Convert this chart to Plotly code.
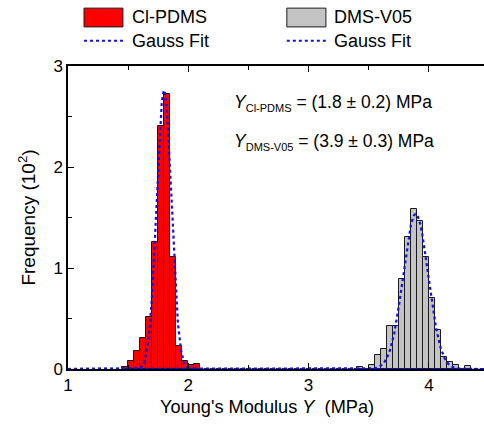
import numpy as np
import plotly.graph_objects as go

# Histogram bins (bin centres in MPa, width 0.05) and counts (in units of 10^2)
bin_width = 0.05
cl_pdms_centers = [1.475, 1.525, 1.575, 1.625, 1.675, 1.725, 1.775, 1.825,
                   1.875, 1.925, 1.975, 2.025, 2.075]
cl_pdms_counts = [0.02, 0.08, 0.18, 0.31, 0.51, 1.26, 2.41, 2.72,
                  1.11, 0.23, 0.08, 0.04, 0.045]

dms_v05_centers = [3.425, 3.475, 3.525, 3.575, 3.625, 3.675, 3.725, 3.775, 3.825,
                   3.875, 3.925, 3.975, 4.025, 4.075, 4.125, 4.175, 4.225,
                   4.275, 4.325]
dms_v05_counts = [0.02, 0.0, 0.04, 0.14, 0.20, 0.43, 0.43, 0.89, 1.31,
                  1.58, 1.47, 1.11, 0.70, 0.39, 0.12, 0.07, 0.04,
                  0.0, 0.03]

# Gaussian fit parameters: centre (MPa), sigma (MPa), peak height (10^2)
cl_fit = dict(center=1.798, sigma=0.061, peak=2.76)
dms_fit = dict(center=3.89, sigma=0.104, peak=1.535)

x_range = [1.0, 4.458]
x_fit = np.linspace(x_range[0], x_range[1], 1400)


def gauss(x, center, sigma, peak):
    return peak * np.exp(-0.5 * ((x - center) / sigma) ** 2)


FONT = "Arial, Liberation Sans, sans-serif"
FIT_BLUE = "#1010ee"
OUTLINE = "#1a1a1a"

fig = go.Figure()

fig.add_trace(go.Bar(x=cl_pdms_centers, y=cl_pdms_counts, width=bin_width,
                     marker=dict(color="#ff0000", line=dict(color=OUTLINE, width=1)),
                     name="Cl-PDMS", showlegend=False))
fig.add_trace(go.Bar(x=dms_v05_centers, y=dms_v05_counts, width=bin_width,
                     marker=dict(color="#c4c4c4", line=dict(color=OUTLINE, width=1)),
                     name="DMS-V05", showlegend=False))

for fit in (cl_fit, dms_fit):
    fig.add_trace(go.Scatter(x=x_fit, y=gauss(x_fit, **fit), mode="lines",
                             line=dict(color=FIT_BLUE, width=2.2, dash="dot"),
                             name="Gauss Fit", showlegend=False, cliponaxis=False))

# Hand-placed legend (two columns)
legend_cols = [("Cl-PDMS", "#ff0000", 0.0385, 0.132, 0.149),
               ("DMS-V05", "#c4c4c4", 0.526, 0.620, 0.635)]
shapes = []
annotations = []
for label, color, x0, x1, xt in legend_cols:
    shapes.append(dict(type="rect", xref="paper", yref="paper",
                       x0=x0, x1=x1, y0=1.129, y1=1.191,
                       fillcolor=color, line=dict(color=OUTLINE, width=1)))
    shapes.append(dict(type="line", xref="paper", yref="paper",
                       x0=x0, x1=x1, y0=1.083, y1=1.083,
                       line=dict(color=FIT_BLUE, width=2, dash="dot")))
    annotations.append(dict(text=label, xref="paper", yref="paper", x=xt, y=1.162,
                            xanchor="left", yanchor="middle", showarrow=False,
                            font=dict(size=18, color="black", family=FONT)))
    annotations.append(dict(text="Gauss Fit", xref="paper", yref="paper", x=xt, y=1.083,
                            xanchor="left", yanchor="middle", showarrow=False,
                            font=dict(size=18, color="black", family=FONT)))

# Fit results
SUB = '<sub><span style="font-size:11px">{}</span></sub>'
annotations.append(dict(text="<i>Y</i>" + SUB.format("Cl-PDMS") + " = (1.8 ± 0.2) MPa",
                        x=2.36, y=2.63, xref="x", yref="y", xanchor="left",
                        yanchor="middle", showarrow=False,
                        font=dict(size=17.5, color="black", family=FONT)))
annotations.append(dict(text="<i>Y</i>" + SUB.format("DMS-V05") + " = (3.9 ± 0.3) MPa",
                        x=2.36, y=2.25, xref="x", yref="y", xanchor="left",
                        yanchor="middle", showarrow=False,
                        font=dict(size=17.5, color="black", family=FONT)))

# x-axis title
annotations.append(dict(text="Young's Modulus <i>Y</i>&nbsp; (MPa)", xref="paper", yref="paper",
                        x=0.478, y=-0.125, xanchor="center", yanchor="middle",
                        showarrow=False, font=dict(size=18.2, color="black", family=FONT)))

fig.update_layout(
    width=484, height=426,
    margin=dict(l=68, r=0, t=66, b=57),
    paper_bgcolor="white", plot_bgcolor="white",
    font=dict(family=FONT, size=17, color="black"),
    bargap=0,
    shapes=shapes,
    annotations=annotations,
)

fig.update_xaxes(
    range=x_range, showgrid=False, zeroline=False,
    showline=True, linecolor="black", linewidth=1.5, mirror="allticks",
    ticks="inside", ticklen=6, tickwidth=1, tickcolor="black",
    tickvals=[1, 2, 3, 4], ticktext=["1", "2", "3", "4"],
    minor=dict(ticks="inside", ticklen=4, dtick=0.5, tick0=1, tickcolor="black"),
    tickfont=dict(size=17),
)
fig.update_yaxes(
    range=[0, 3], showgrid=False, zeroline=False,
    showline=True, linecolor="black", linewidth=1.5, mirror=False,
    ticks="inside", ticklen=6, tickwidth=1, tickcolor="black",
    tickvals=[0, 1, 2, 3],
    minor=dict(ticks="inside", ticklen=4, dtick=0.5, tick0=0, tickcolor="black"),
    tickfont=dict(size=17),
    title=dict(text="Frequency (10<sup>2</sup>)", font=dict(size=19), standoff=13),
)

fig.write_html("out.html")
